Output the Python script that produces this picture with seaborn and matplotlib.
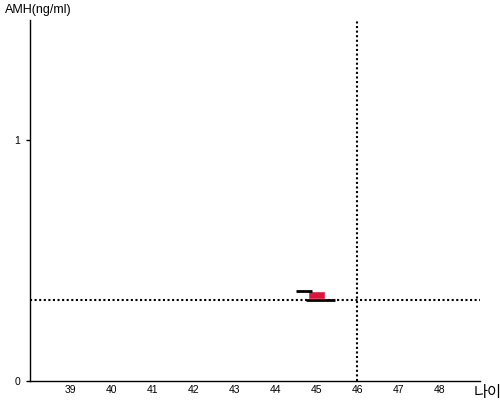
import matplotlib
matplotlib.use("Agg")
import matplotlib.pyplot as plt
import seaborn as sns

sns.set_style("white", {"text.color": "black", "xtick.color": "black", "ytick.color": "black"})
plt.rcParams['font.family'] = ['Liberation Sans', 'Noto Sans CJK KR', 'DejaVu Sans']

# data
ages = [39, 40, 41, 42, 43, 44, 45, 46, 47, 48]
ref_age = 46.0
ref_amh = 0.338
box_age = [45.0]
box_low = [0.34]
box_high = [0.372]
upper_line = (44.5, 44.9, 0.373)
lower_line = (44.75, 45.45, 0.338)

fig = plt.figure(figsize=(5, 4), dpi=100)
ax = fig.add_axes([0.06, 0.0475, 0.90, 0.9025])

ax.axhline(ref_amh, color="black", linestyle=(0, (1, 1.2)), linewidth=1.5, zorder=1)
ax.axvline(ref_age, color="black", linestyle=(0, (1, 1.2)), linewidth=1.5, zorder=1)

heights = [h - l for h, l in zip(box_high, box_low)]
ax.bar(box_age, heights, bottom=box_low, width=0.4, color="#dc143c", zorder=2)
ax.hlines(upper_line[2], upper_line[0], upper_line[1], color="black", linewidth=2, zorder=3)
ax.hlines(lower_line[2], lower_line[0], lower_line[1], color="black", linewidth=2, zorder=3)

ax.set_xlim(38, 49)
ax.set_ylim(0, 1.5)
ax.set_xticks(ages)
ax.set_yticks([0, 1])
ax.tick_params(axis="x", length=0, labelsize=7.5, pad=3, labelcolor="black")
ax.tick_params(axis="y", length=3, width=1, labelsize=7.5, pad=4, left=True,
               color="black", labelcolor="black")
sns.despine(ax=ax)
for s in ["left", "bottom"]:
    ax.spines[s].set_color("black")
    ax.spines[s].set_linewidth(1)

fig.text(0.01, 0.975, "AMH(ng/ml)", fontsize=9, va="center", ha="left", color="black")
fig.text(0.947, 0.018, "나이", fontsize=11, va="center", ha="left", color="black")

fig.savefig("out.png", dpi=100)
